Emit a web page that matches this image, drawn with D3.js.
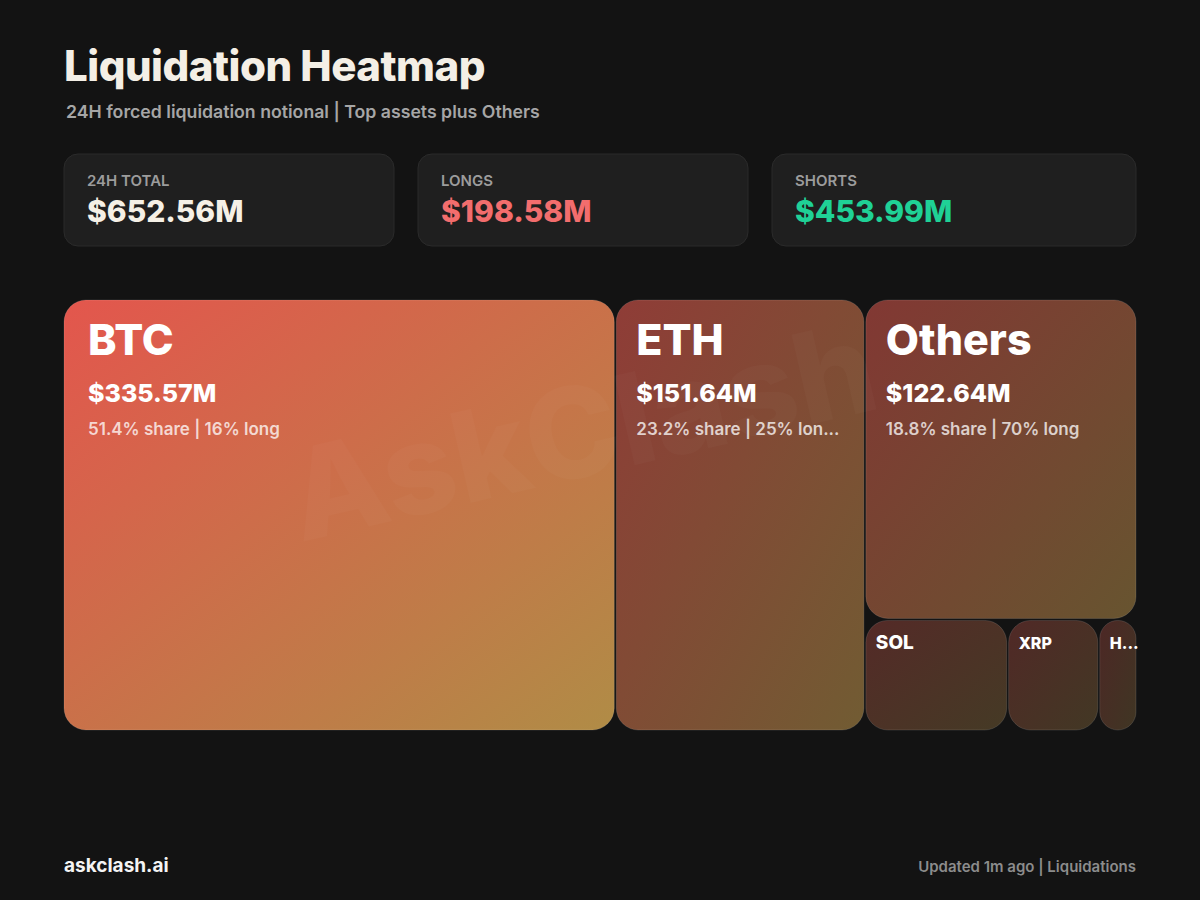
<!DOCTYPE html>
<html>
<head>
<meta charset="utf-8">
<script src="https://cdn.jsdelivr.net/npm/d3@7"></script>
<style>
  html, body { margin: 0; padding: 0; background: #131313; }
  svg { display: block; }
  text { font-family: Inter, "Noto Sans", sans-serif; }
</style>
</head>
<body>
<svg id="chart" width="1200" height="900"></svg>
<script>
// ---- data ----
const assets = ["BTC", "ETH", "Others", "SOL", "XRP", "HYPE"];
const notional = [335.57, 151.64, 122.64, 22.41, 14.30, 6.00]; // $M, 24H
const longPct = [16, 25, 70, 48, 52, 50];
const statLabels = ["24H TOTAL", "LONGS", "SHORTS"];
const statValues = [652.56, 198.58, 453.99];

const W = 1200, H = 900;
const svg = d3.select("#chart");
svg.append("rect").attr("width", W).attr("height", H).attr("fill", "#131313");

// ---- title ----
svg.append("text").attr("x", 64).attr("y", 81)
  .attr("font-size", 42).attr("font-weight", 800).attr("fill", "#f4efe6")
  .attr("letter-spacing", -0.5)
  .text("Liquidation Heatmap");
svg.append("text").attr("x", 66).attr("y", 118)
  .attr("font-size", 17.7).attr("font-weight", 600).attr("fill", "#a6a6a6")
  .text("24H forced liquidation notional | Top assets plus Others");

// ---- stat cards ----
const cardW = [330, 330, 364];
const cardColors = ["#f5f0e6", "#f26d6d", "#1fd196"];
const fmt = v => "$" + d3.format(".2f")(v) + "M";
let cx = 64;
statLabels.forEach((lab, i) => {
  const g = svg.append("g").attr("transform", `translate(${cx},154)`);
  g.append("rect").attr("width", cardW[i]).attr("height", 92).attr("rx", 14)
    .attr("fill", "#1f1f1f").attr("stroke", "#2b2b2b").attr("stroke-width", 1);
  g.append("text").attr("x", 23).attr("y", 32)
    .attr("font-size", 15).attr("font-weight", 600).attr("fill", "#9c9c9c")
    .text(lab);
  g.append("text").attr("x", 23).attr("y", 68)
    .attr("font-size", 30).attr("font-weight", 800).attr("fill", cardColors[i])
    .text(fmt(statValues[i]));
  cx += cardW[i] + 24;
});

// ---- treemap ----
const TX = 64, TY = 300, TW = 1072, TH = 430;
const total = d3.sum(notional);
const root = d3.hierarchy({ children: assets.map((a, i) => ({ name: a, value: notional[i], long: longPct[i] })) })
  .sum(d => d.value || 0);
d3.treemap().size([TW, TH]).paddingInner(2).tile(d3.treemapBinary).round(false)(root);

const alpha = d3.scaleLinear().domain([0, d3.max(notional)]).range([0.25, 1]);
const defs = svg.append("defs");
const tg = svg.append("g").attr("transform", `translate(${TX},${TY})`);

root.leaves().forEach((leaf, i) => {
  const w = leaf.x1 - leaf.x0, h = leaf.y1 - leaf.y0;
  const a = alpha(leaf.data.value);
  const gid = "grad" + i;
  const gr = defs.append("linearGradient").attr("id", gid)
    .attr("x1", 0).attr("y1", 0).attr("x2", 1).attr("y2", 1);
  gr.append("stop").attr("offset", "0%").attr("stop-color", "#e3564d").attr("stop-opacity", a);
  gr.append("stop").attr("offset", "100%").attr("stop-color", "#b08c46").attr("stop-opacity", a);

  const rx = Math.min(22, w / 2);
  const g = tg.append("g").attr("transform", `translate(${leaf.x0},${leaf.y0})`);
  g.append("rect").attr("width", w).attr("height", h).attr("rx", rx).attr("fill", "#171717");
  g.append("rect").attr("width", w).attr("height", h).attr("rx", rx)
    .attr("fill", `url(#${gid})`).attr("stroke", "rgba(255,255,255,0.12)").attr("stroke-width", 1);
  leaf.g = g; leaf.w = w; leaf.h = h;
});

// watermark
tg.append("text")
  .attr("transform", `translate(${592 - TX},${475 - TY}) rotate(-13)`)
  .attr("text-anchor", "middle")
  .attr("font-size", 126).attr("font-weight", 800)
  .attr("fill", "#ffffff").attr("fill-opacity", 0.025)
  .text("AskClash");

function fitText(sel, full, keepWidth, maxWidth) {
  sel.text(full);
  if (sel.node().getComputedTextLength() <= keepWidth) return;
  let n = full.length - 1;
  while (n > 1) {
    sel.text(full.slice(0, n) + "...");
    if (sel.node().getComputedTextLength() <= maxWidth) return;
    n--;
  }
  sel.text(full.slice(0, 1) + "...");
}

root.leaves().forEach(leaf => {
  const { g, w, h } = leaf;
  const d = leaf.data;
  if (h > 200) {
    const pad = w > 400 ? 24 : 20;
    g.append("text").attr("x", pad).attr("y", 55)
      .attr("font-size", 43).attr("font-weight", 800).attr("fill", "#ffffff")
      .text(d.name);
    g.append("text").attr("x", pad).attr("y", 102)
      .attr("font-size", 25).attr("font-weight", 800).attr("fill", "#ffffff")
      .text(fmt(d.value));
    const sub = g.append("text").attr("x", pad).attr("y", 135)
      .attr("font-size", 17).attr("font-weight", 600).attr("fill", "#ffffff").attr("fill-opacity", 0.75);
    const label = d3.format(".1f")(d.value / total * 100) + "% share | " + d.long + "% long";
    fitText(sub, label, w - 2 * pad - 25, w - 2 * pad);
  } else {
    const pad = 10;
    const fs = Math.max(16, Math.round(w * 0.135));
    const t = g.append("text").attr("x", pad).attr("y", 29)
      .attr("font-size", fs).attr("font-weight", 800).attr("fill", "#ffffff");
    fitText(t, d.name, w - 2 * pad, w - pad);
  }
});

// ---- footer ----
svg.append("text").attr("x", 64).attr("y", 872)
  .attr("font-size", 19).attr("font-weight", 700).attr("fill", "#f4f4f4")
  .text("askclash.ai");
svg.append("text").attr("x", 1136).attr("y", 872).attr("text-anchor", "end")
  .attr("font-size", 15).attr("font-weight", 600).attr("fill", "#8c8c8c")
  .text("Updated 1m ago | Liquidations");
</script>
</body>
</html>
